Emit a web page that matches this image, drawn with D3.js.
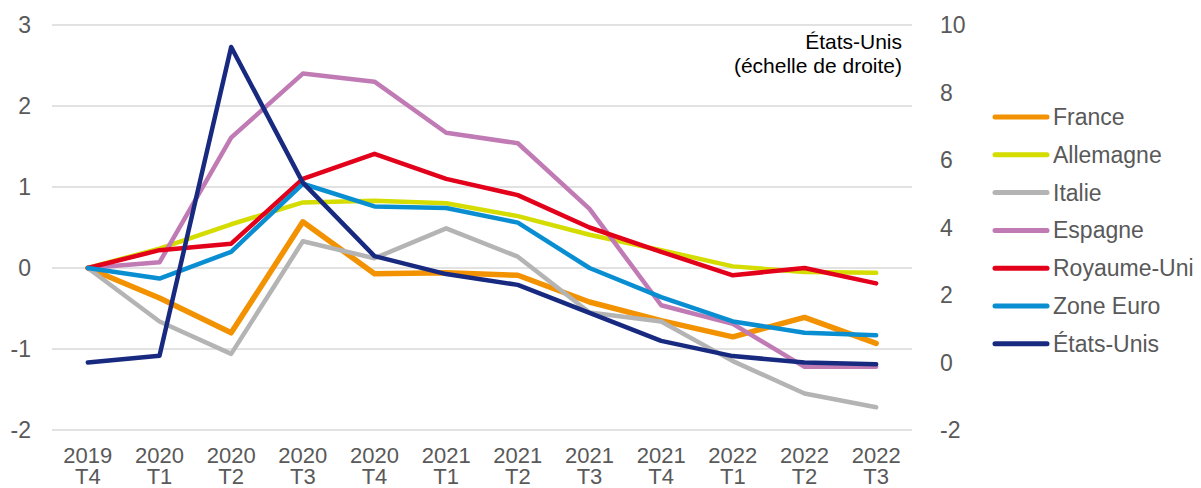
<!DOCTYPE html>
<html>
<head>
<meta charset="utf-8">
<script src="https://cdn.jsdelivr.net/npm/d3@7/dist/d3.min.js"></script>
<style>
  html, body { margin: 0; padding: 0; background: #fff; }
  svg { display: block; font-family: "Liberation Sans", Arial, sans-serif; }
</style>
</head>
<body>
<svg id="chart" width="1201" height="488"></svg>
<script>
const categories = [
  ["2019", "T4"], ["2020", "T1"], ["2020", "T2"], ["2020", "T3"], ["2020", "T4"],
  ["2021", "T1"], ["2021", "T2"], ["2021", "T3"], ["2021", "T4"],
  ["2022", "T1"], ["2022", "T2"], ["2022", "T3"]
];
const leftTicks = [-2, -1, 0, 1, 2, 3];
const rightTicks = [-2, 0, 2, 4, 6, 8, 10];

const france     = [0, -0.37, -0.80, 0.57, -0.07, -0.06, -0.09, -0.42, -0.65, -0.85, -0.61, -0.93];
const allemagne  = [0, 0.24, 0.54, 0.81, 0.83, 0.80, 0.64, 0.41, 0.22, 0.02, -0.05, -0.06];
const italie     = [0, -0.66, -1.06, 0.33, 0.12, 0.49, 0.14, -0.55, -0.66, -1.15, -1.55, -1.72];
const espagne    = [0, 0.07, 1.61, 2.40, 2.30, 1.67, 1.54, 0.73, -0.46, -0.69, -1.22, -1.22];
const royaumeUni = [0, 0.22, 0.30, 1.10, 1.41, 1.10, 0.90, 0.50, 0.20, -0.09, 0.0, -0.19];
const zoneEuro   = [0, -0.13, 0.20, 1.04, 0.76, 0.74, 0.56, 0.0, -0.36, -0.66, -0.80, -0.83];
const etatsUnis  = [0.0, 0.2, 9.35, 5.33, 3.15, 2.62, 2.30, 1.47, 0.64, 0.19, 0.0, -0.05]; // right axis

const seriesNames = ["France", "Allemagne", "Italie", "Espagne", "Royaume-Uni", "Zone Euro", "États-Unis"];
const seriesValues = [france, allemagne, italie, espagne, royaumeUni, zoneEuro, etatsUnis];
const seriesColors = ["#F39200", "#D4DC00", "#B4B4B4", "#C07BB5", "#E3001B", "#0A8ED2", "#182A80"];
const seriesAxis = ["left", "left", "left", "left", "left", "left", "right"];
const seriesWidth = [5.5, 4.5, 4.5, 4.5, 4.5, 4.5, 4.5];

const svg = d3.select("#chart");

const x = d3.scaleBand().domain(d3.range(categories.length)).range([52, 912]).padding(0);
const yL = d3.scaleLinear().domain([-2, 3]).range([430, 25]);
const yR = d3.scaleLinear().domain([-2, 10]).range([430, 25]);
const cx = i => x(i) + x.bandwidth() / 2;

// gridlines
svg.append("g").selectAll("line").data(leftTicks).join("line")
  .attr("x1", 52).attr("x2", 912)
  .attr("y1", d => yL(d)).attr("y2", d => yL(d))
  .attr("stroke", "#D9D9D9").attr("stroke-width", 1.5);

// left axis labels
svg.append("g").selectAll("text").data(leftTicks).join("text")
  .attr("x", 31).attr("y", d => yL(d)).attr("dy", "0.35em")
  .attr("text-anchor", "end").attr("font-size", 23).attr("fill", "#595959")
  .text(d => d);

// right axis labels
svg.append("g").selectAll("text").data(rightTicks).join("text")
  .attr("x", 940).attr("y", d => yR(d)).attr("dy", "0.35em")
  .attr("text-anchor", "start").attr("font-size", 23).attr("fill", "#595959")
  .text(d => d);

// x labels
const xl = svg.append("g").selectAll("text").data(categories).join("text")
  .attr("text-anchor", "middle").attr("font-size", 22).attr("fill", "#595959");
xl.append("tspan").attr("x", (d, i) => cx(i)).attr("y", 463).text(d => d[0]);
xl.append("tspan").attr("x", (d, i) => cx(i)).attr("y", 484).text(d => d[1]);

// lines
seriesValues.forEach((vals, s) => {
  const ys = seriesAxis[s] === "left" ? yL : yR;
  const line = d3.line().x((d, i) => cx(i)).y(d => ys(d));
  svg.append("path").datum(vals)
    .attr("d", line)
    .attr("fill", "none")
    .attr("stroke", seriesColors[s])
    .attr("stroke-width", seriesWidth[s])
    .attr("stroke-linejoin", "round")
    .attr("stroke-linecap", "round");
});

// annotation
const ann = svg.append("text").attr("text-anchor", "end").attr("font-size", 21).attr("fill", "#000");
ann.append("tspan").attr("x", 902).attr("y", 49).text("États-Unis");
ann.append("tspan").attr("x", 902).attr("y", 73).text("(échelle de droite)");

// legend
const lg = svg.append("g").selectAll("g").data(seriesNames).join("g")
  .attr("transform", (d, i) => `translate(0, ${117 + i * 37.8})`);
lg.append("line").attr("x1", 995).attr("x2", 1047).attr("y1", 0).attr("y2", 0)
  .attr("stroke", (d, i) => seriesColors[i]).attr("stroke-width", 5).attr("stroke-linecap", "round");
lg.append("text").attr("x", 1053).attr("y", 0).attr("dy", "0.35em")
  .attr("font-size", 23).attr("fill", "#595959").text(d => d);
</script>
</body>
</html>
